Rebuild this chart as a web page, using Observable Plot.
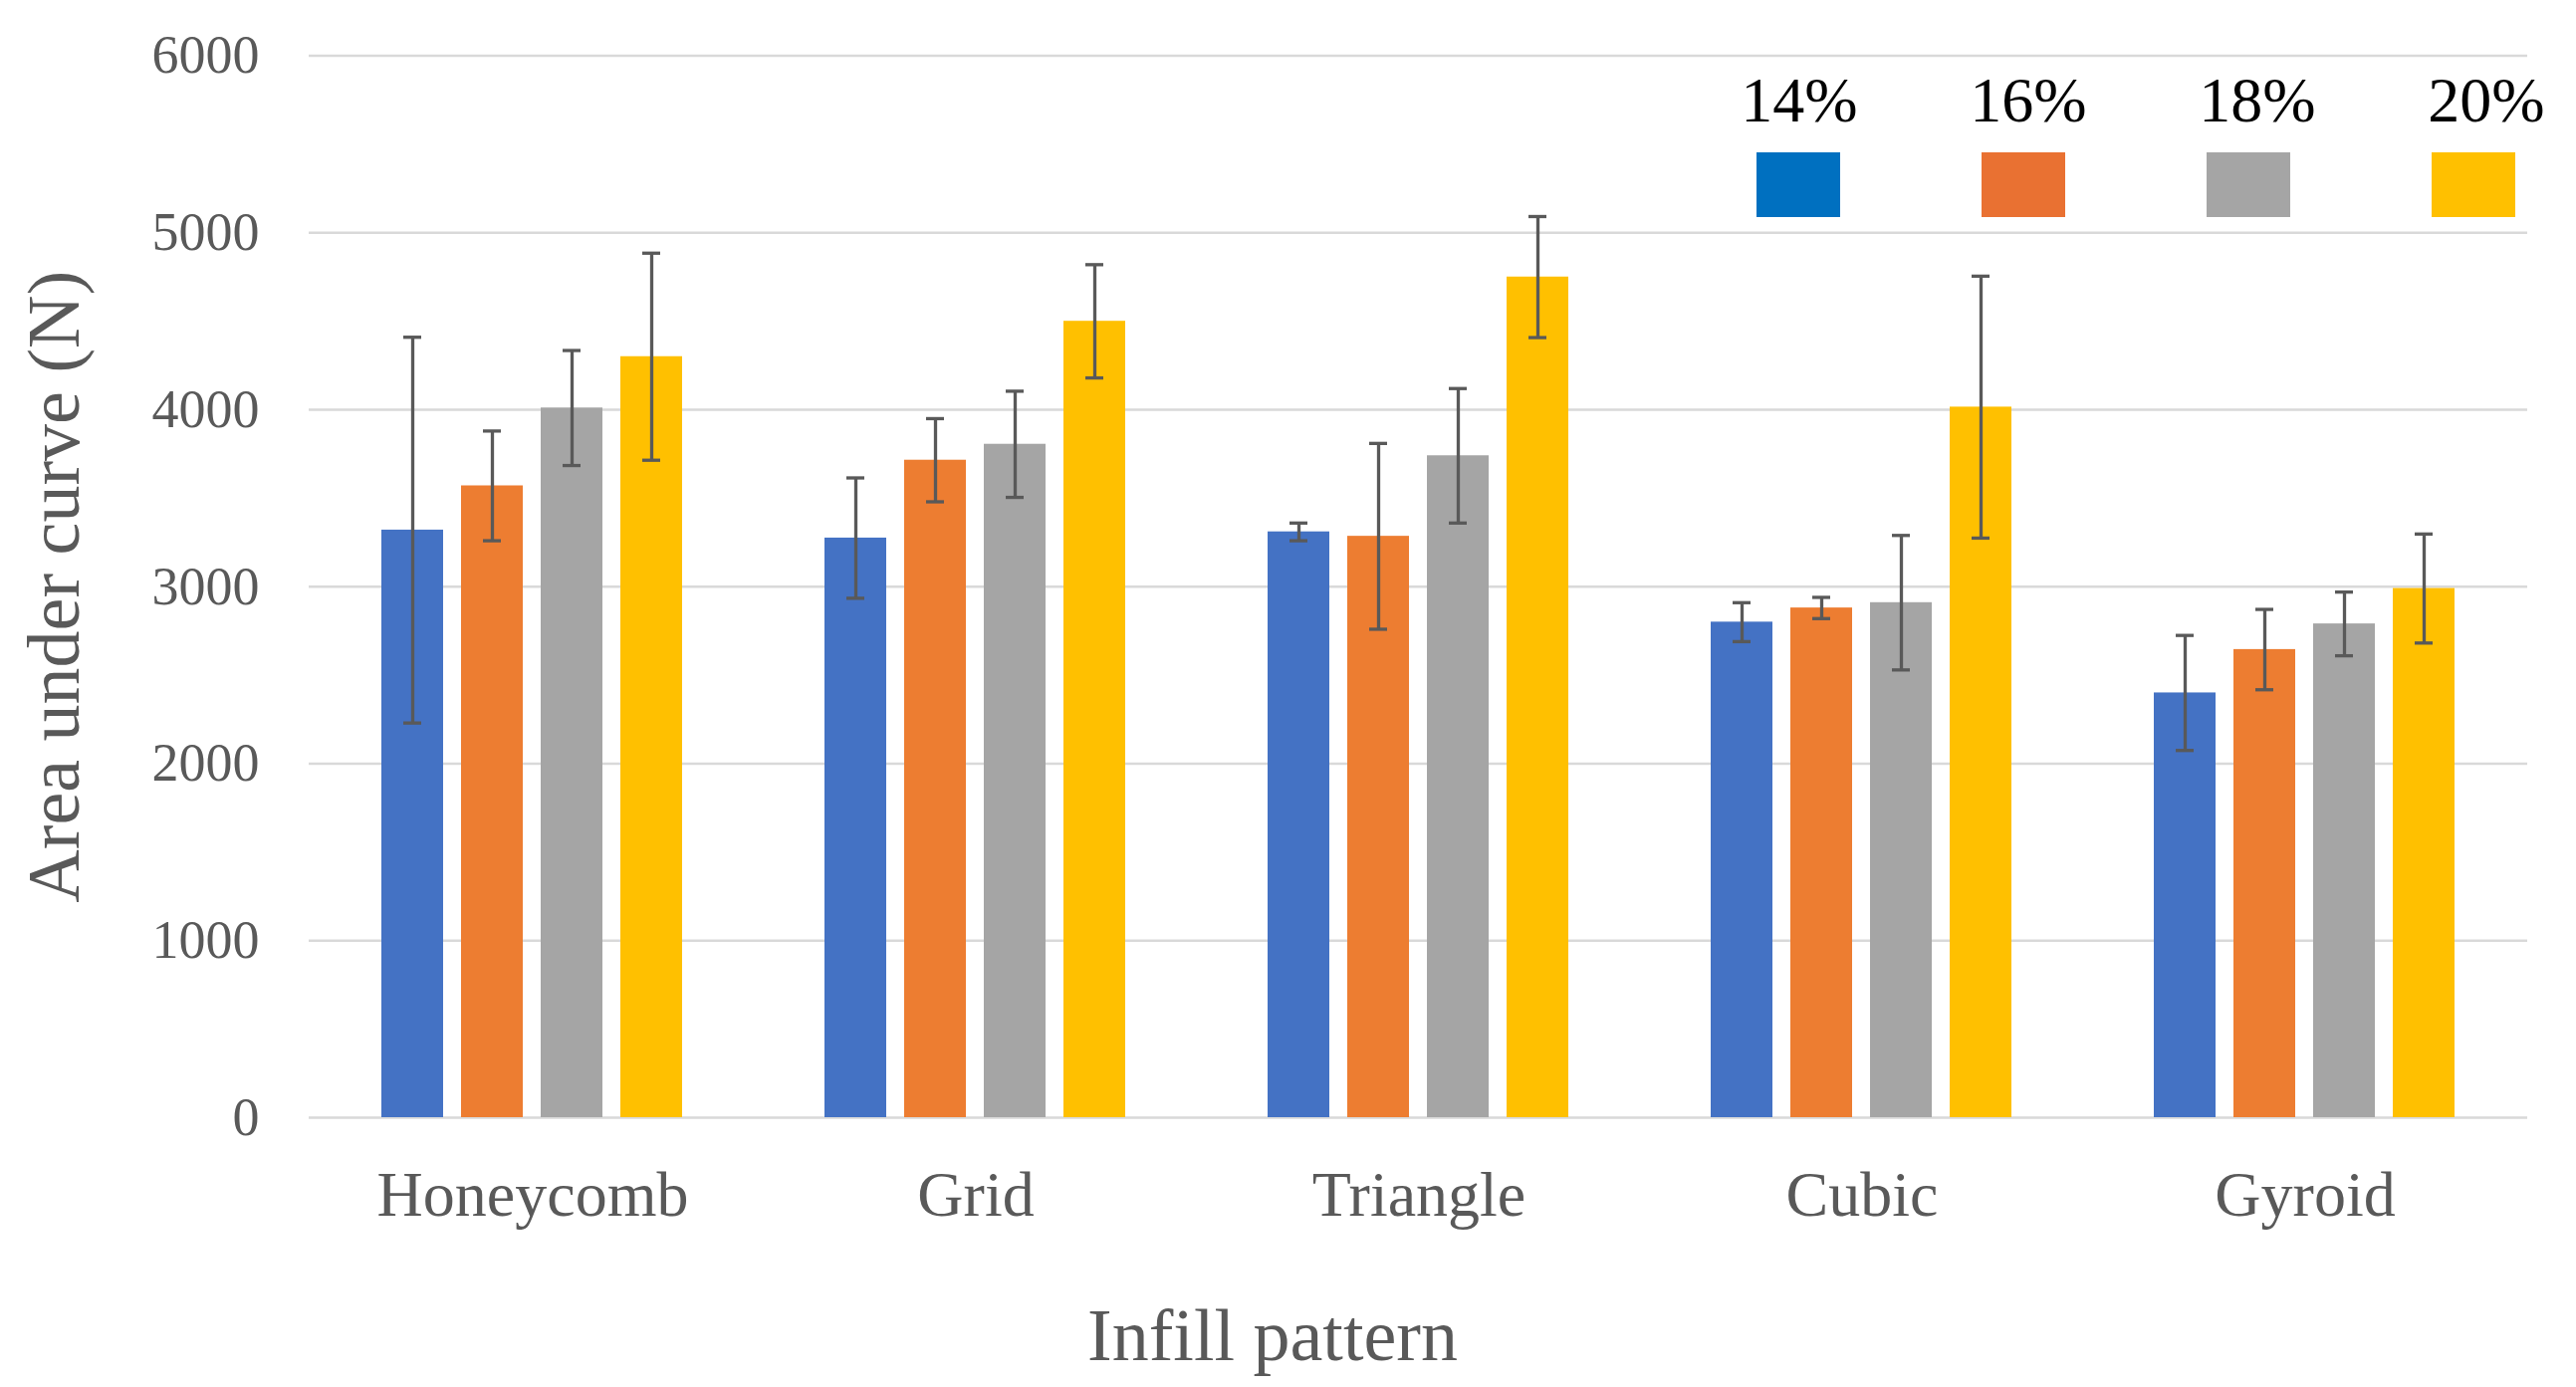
<!DOCTYPE html>
<html>
<head>
<meta charset="utf-8">
<script src="https://cdn.jsdelivr.net/npm/d3@7"></script>
<script src="https://cdn.jsdelivr.net/npm/@observablehq/plot@0.6"></script>
<style>
  body { margin: 0; background: #fff; }
  #wrap { position: relative; width: 2587px; height: 1393px; font-family: "Liberation Serif", "Times New Roman", serif; }
  #wrap > svg { position: absolute; left: 0; top: 0; }
  .lab { position: absolute; width: 200px; text-align: center; font-size: 64px; line-height: 64px; color: #000; }
  .sw { position: absolute; width: 84px; height: 65px; }
</style>
</head>
<body>
<div id="wrap"></div>
<script>
// ---- data ----
const groups = ["Honeycomb", "Grid", "Triangle", "Cubic", "Gyroid"];
const series = ["14%", "16%", "18%", "20%"];
const mean14 = [3320, 3275, 3310, 2800, 2400];
const mean16 = [3570, 3715, 3285, 2880, 2645];
const mean18 = [4010, 3805, 3740, 2910, 2790];
const mean20 = [4300, 4500, 4750, 4015, 2990];
const err14 = [1090, 340, 50, 110, 325];
const err16 = [310, 235, 525, 60, 227];
const err18 = [325, 300, 380, 380, 180];
const err20 = [585, 320, 342, 740, 308];
const yTicks = [0, 1000, 2000, 3000, 4000, 5000, 6000];
const barColors = ["#4472C4", "#ED7D31", "#A5A5A5", "#FFC000"];
const legendColors = ["#0070C0", "#E97132", "#A5A5A5", "#FFC000"];
const xTitle = "Infill pattern";
const yTitle = "Area under curve (N)";

const means = [mean14, mean16, mean18, mean20];
const errs = [err14, err16, err18, err20];
const rows = groups.flatMap((g, i) => series.map((s, j) => ({group: g, pct: s, value: means[j][i], err: errs[j][i]})));

const W = 2587, H = 1393;
const ML = 310, MR = 49, MT = 55.6, MB = 271;
const errColor = "#595959";
const font = '"Liberation Serif", "Times New Roman", serif';
const yDomain = [0, 6000];

// base layer: grid, y axis, titles
const base = Plot.plot({
  width: W, height: H,
  marginLeft: ML, marginRight: MR, marginTop: MT, marginBottom: MB,
  style: {fontFamily: font, background: "white", color: "#595959", overflow: "visible"},
  y: {domain: yDomain, axis: null},
  marks: [
    Plot.ruleY(yTicks, {y: d => d, stroke: "#D9D9D9", strokeWidth: 2.5}),
    Plot.axisY({ticks: yTicks, tickFormat: d3.format("d"), tickSize: 0, tickPadding: 50, fontSize: 54, label: null, fill: "#595959"}),
    Plot.text([yTitle], {text: d => d, frameAnchor: "left", textAnchor: "middle", rotate: -90, lineAnchor: "bottom", dx: -232, fontSize: 74, fill: "#595959"}),
    Plot.text([xTitle], {text: d => d, frameAnchor: "bottom", textAnchor: "middle", lineAnchor: "bottom", dx: -146.5, dy: 243, fontSize: 74, fill: "#595959"})
  ]
});

// bar layer: faceted grouped bars with error bars
const bars = Plot.plot({
  width: W, height: H,
  marginLeft: ML, marginRight: MR, marginTop: MT, marginBottom: MB,
  style: {fontFamily: font, background: "transparent", color: "#595959", overflow: "visible"},
  fx: {domain: groups, paddingInner: 0.3155, paddingOuter: 0.1578, label: null},
  x: {domain: series, paddingInner: 0.22, paddingOuter: 0, axis: null},
  y: {domain: yDomain, axis: null},
  color: {domain: series, range: barColors},
  marks: [
    Plot.barY(rows, {fx: "group", x: "pct", y: "value", fill: "pct"}),
    Plot.ruleX(rows, {fx: "group", x: "pct", y1: d => d.value - d.err, y2: d => d.value + d.err, stroke: errColor, strokeWidth: 3.3}),
    Plot.tickY(rows, {fx: "group", x: "pct", y: d => d.value + d.err, stroke: errColor, strokeWidth: 3.3, insetLeft: 22, insetRight: 22}),
    Plot.tickY(rows, {fx: "group", x: "pct", y: d => d.value - d.err, stroke: errColor, strokeWidth: 3.3, insetLeft: 22, insetRight: 22}),
    Plot.axisFx({anchor: "bottom", tickSize: 0, tickPadding: 53, fontSize: 64, label: null, fill: "#595959"})
  ]
});

const wrap = document.getElementById("wrap");
wrap.appendChild(base);
wrap.appendChild(bars);

// legend (labels above swatches, top right)
series.forEach((s, i) => {
  const lab = document.createElement("div");
  lab.className = "lab";
  lab.textContent = s;
  lab.style.left = (1807 + i * 230 - 100) + "px";
  lab.style.top = "69px";
  wrap.appendChild(lab);
  const sw = document.createElement("div");
  sw.className = "sw";
  sw.style.left = (1764 + i * 226) + "px";
  sw.style.top = "153px";
  sw.style.background = legendColors[i];
  wrap.appendChild(sw);
});
</script>
</body>
</html>
